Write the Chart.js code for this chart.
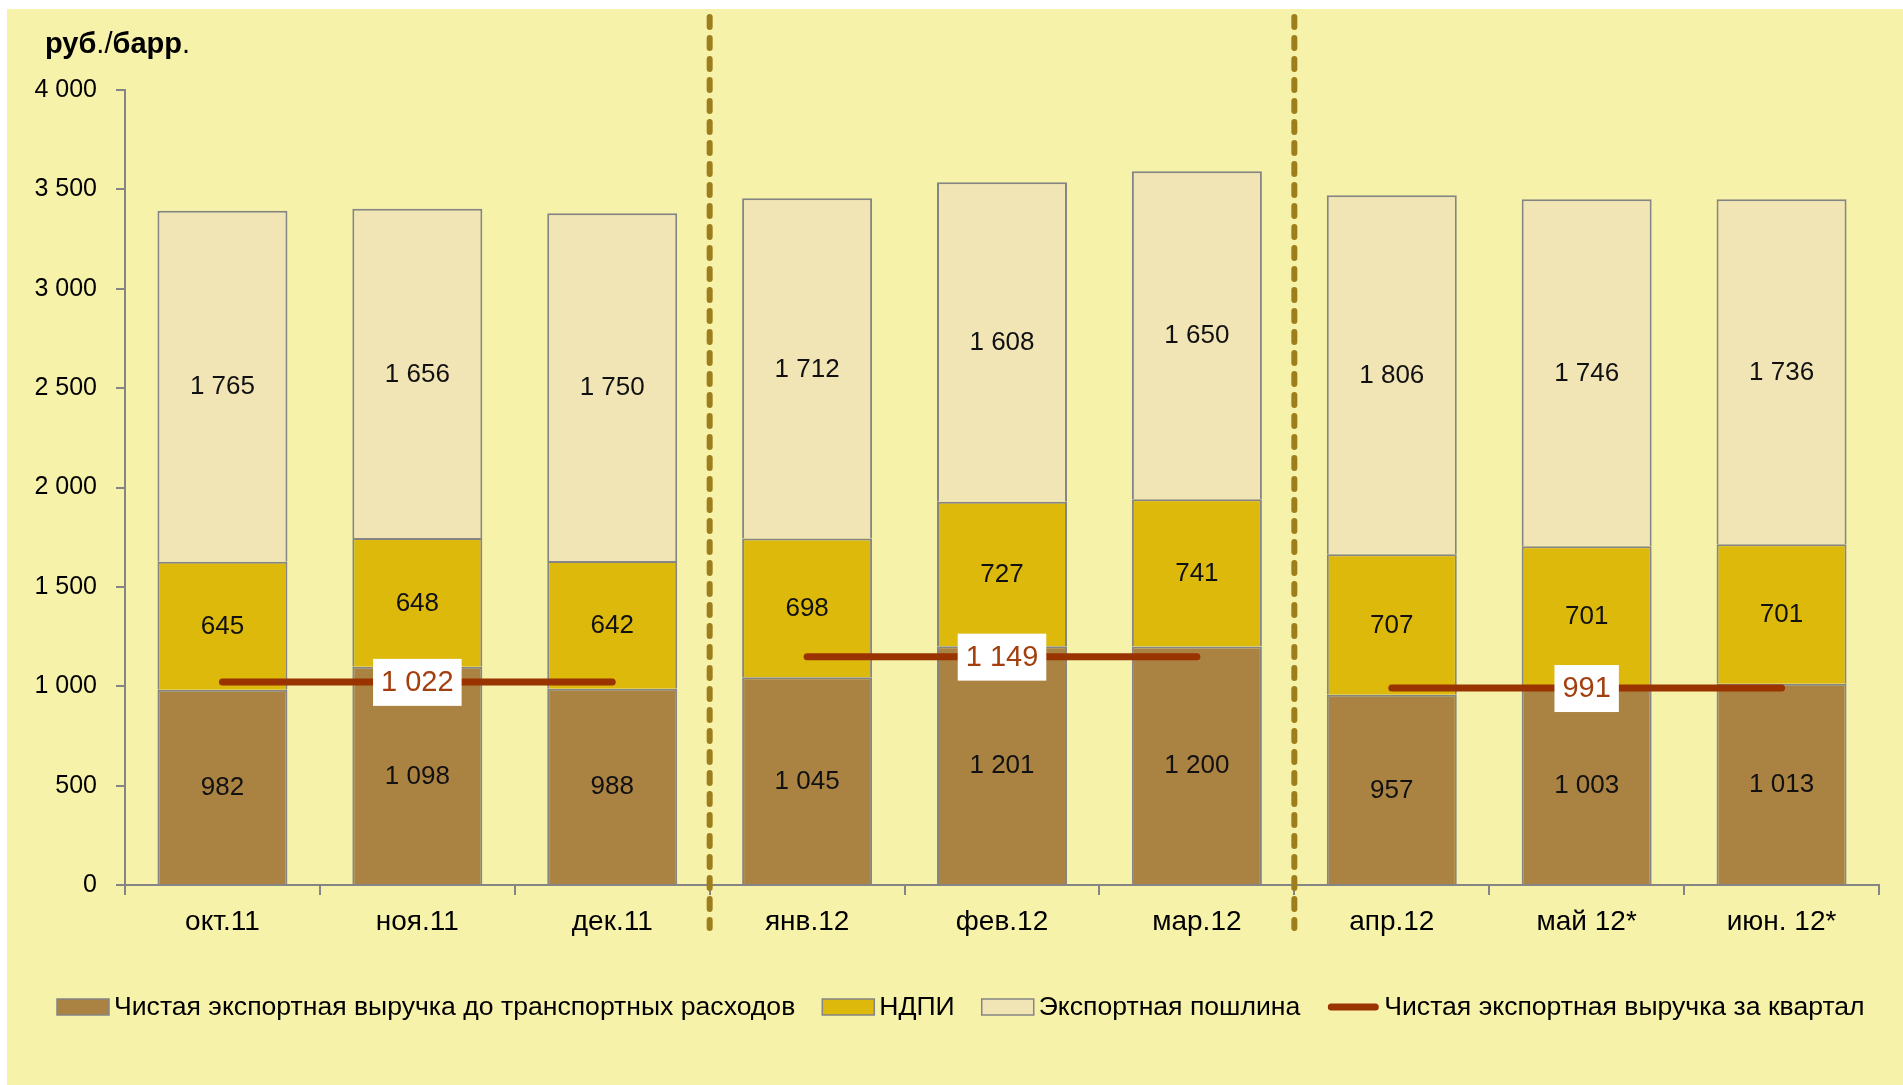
<!DOCTYPE html>
<html>
<head>
<meta charset="utf-8">
<script src="https://cdn.jsdelivr.net/npm/chart.js@4.4.1/dist/chart.umd.min.js"></script>
<style>
    html, body { margin: 0; padding: 0; background: #ffffff; }
    #wrap { position: relative; width: 1903px; height: 1085px; }
</style>
</head>
<body>
<div id="wrap"><canvas id="chart" width="1903" height="1085"></canvas></div>
<script>
// данные графика
const months = ['окт.11', 'ноя.11', 'дек.11', 'янв.12', 'фев.12', 'мар.12', 'апр.12', 'май 12*', 'июн. 12*'];
const netRevenue = [982, 1098, 988, 1045, 1201, 1200, 957, 1003, 1013];
const mineralTax = [645, 648, 642, 698, 727, 741, 707, 701, 701];
const exportDuty = [1765, 1656, 1750, 1712, 1608, 1650, 1806, 1746, 1736];
const quarterRevenue = [1022, 1149, 991];
const monthsPerQuarter = 3;

const FONT = "'Liberation Sans', Arial, sans-serif";
const BG = '#F7F2AA';
const BORDER = '#858585';

function fmt(v) {
    return String(v).replace(/\B(?=(\d{3})+(?!\d))/g, ' ');
}

// линия по кварталу: значение только в месяцах этого квартала
function quarterSeries(q) {
    return months.map((m, i) => Math.floor(i / monthsPerQuarter) === q ? quarterRevenue[q] : null);
}

const barStyle = { borderColor: BORDER, borderWidth: 2, barPercentage: 0.667, categoryPercentage: 1, order: 2 };

const datasets = [
    Object.assign({ label: 'Чистая экспортная выручка до транспортных расходов', data: netRevenue, backgroundColor: '#AA8342' }, barStyle),
    Object.assign({ label: 'НДПИ', data: mineralTax, backgroundColor: '#DDB90C' }, barStyle),
    Object.assign({ label: 'Экспортная пошлина', data: exportDuty, backgroundColor: '#F1E5B6' }, barStyle)
];
quarterRevenue.forEach((v, q) => {
    datasets.push({
        type: 'line',
        label: 'Чистая экспортная выручка за квартал',
        data: quarterSeries(q),
        borderColor: '#993300',
        borderWidth: 7,
        borderCapStyle: 'round',
        pointRadius: 0,
        spanGaps: false,
        order: 1,
        isQuarter: true,
        legendHidden: q > 0
    });
});

// фон, заголовок, разделители, подписи, легенда
const decorPlugin = {
    id: 'decor',
    beforeDraw(chart) {
        const ctx = chart.ctx;
        ctx.save();
        ctx.fillStyle = BG;
        ctx.fillRect(7, 9, chart.width - 7, chart.height - 9);
        ctx.restore();
    },
    afterDatasetsDraw(chart) {
        const ctx = chart.ctx;
        const x = chart.scales.x;
        ctx.save();

        // подписи значений на столбцах
        ctx.font = '26px ' + FONT;
        ctx.fillStyle = '#111';
        ctx.textAlign = 'center';
        ctx.textBaseline = 'middle';
        [0, 1, 2].forEach(di => {
            const meta = chart.getDatasetMeta(di);
            meta.data.forEach((el, i) => {
                ctx.fillText(fmt(chart.data.datasets[di].data[i]), el.x, (el.y + el.base) / 2 + 1);
            });
        });

        // подписи квартальной выручки
        ctx.font = '29px ' + FONT;
        quarterRevenue.forEach((v, q) => {
            const mid = q * monthsPerQuarter + 1;
            const px = x.getPixelForValue(mid);
            const py = chart.scales.y.getPixelForValue(v);
            const w = ctx.measureText(fmt(v)).width + 16;
            ctx.fillStyle = '#ffffff';
            ctx.fillRect(px - w / 2, py - 23, w, 47);
            ctx.fillStyle = '#A33F0F';
            ctx.fillText(fmt(v), px, py + 1);
        });

        // пунктирные разделители кварталов
        ctx.strokeStyle = '#9E7E1C';
        ctx.lineWidth = 6;
        ctx.lineCap = 'round';
        ctx.setLineDash([10, 11]);
        for (let q = 1; q < quarterRevenue.length; q++) {
            const i = q * monthsPerQuarter;
            const bx = (x.getPixelForValue(i - 1) + x.getPixelForValue(i)) / 2;
            ctx.beginPath();
            ctx.moveTo(bx, 17);
            ctx.lineTo(bx, 928);
            ctx.stroke();
        }
        ctx.setLineDash([]);

        // заголовок оси
        ctx.textAlign = 'left';
        ctx.textBaseline = 'alphabetic';
        ctx.fillStyle = '#000';
        let tx = 45;
        [['руб', true], ['./', false], ['барр', true], ['.', false]].forEach(([t, b]) => {
            ctx.font = (b ? 'bold ' : '') + '29px ' + FONT;
            ctx.fillText(t, tx, 53);
            tx += ctx.measureText(t).width;
        });

        // легенда
        ctx.font = '26.6px ' + FONT;
        ctx.textBaseline = 'middle';
        let lx = 57;
        const ly = 1007;
        chart.data.datasets.forEach(ds => {
            if (ds.legendHidden) return;
            if (ds.isQuarter) {
                ctx.strokeStyle = ds.borderColor;
                ctx.lineWidth = 7;
                ctx.lineCap = 'round';
                ctx.beginPath();
                ctx.moveTo(lx + 4, ly);
                ctx.lineTo(lx + 48, ly);
                ctx.stroke();
            } else {
                ctx.fillStyle = ds.backgroundColor;
                ctx.fillRect(lx, ly - 8, 52, 16);
                ctx.strokeStyle = BORDER;
                ctx.lineWidth = 1.5;
                ctx.strokeRect(lx, ly - 8, 52, 16);
            }
            ctx.fillStyle = '#000';
            ctx.fillText(ds.label, lx + 57, ly + 1);
            lx += 57 + ctx.measureText(ds.label).width + 27;
        });
        ctx.restore();
    }
};

new Chart(document.getElementById('chart'), {
    type: 'bar',
    data: { labels: months, datasets: datasets },
    options: {
        responsive: false,
        animation: false,
        layout: { padding: { left: 0, top: 90, right: 24, bottom: 140 } },
        plugins: {
            legend: { display: false },
            tooltip: { enabled: false }
        },
        scales: {
            x: {
                stacked: true,
                grid: { drawOnChartArea: false, color: BORDER, lineWidth: 2, tickLength: 10 },
                border: { color: BORDER, width: 2 },
                ticks: { color: '#000', font: { family: FONT, size: 28 }, padding: 10 },
                afterFit(scale) { scale.height = 60; }
            },
            y: {
                stacked: true,
                min: 0,
                max: 4000,
                grid: { drawOnChartArea: false, color: BORDER, lineWidth: 2, tickLength: 9 },
                border: { color: BORDER, width: 2 },
                ticks: {
                    stepSize: 500,
                    color: '#000',
                    font: { family: FONT, size: 25 },
                    padding: 19,
                    callback: v => fmt(v)
                },
                afterFit(scale) { scale.width = 125; }
            }
        }
    },
    plugins: [decorPlugin]
});
</script>
</body>
</html>
